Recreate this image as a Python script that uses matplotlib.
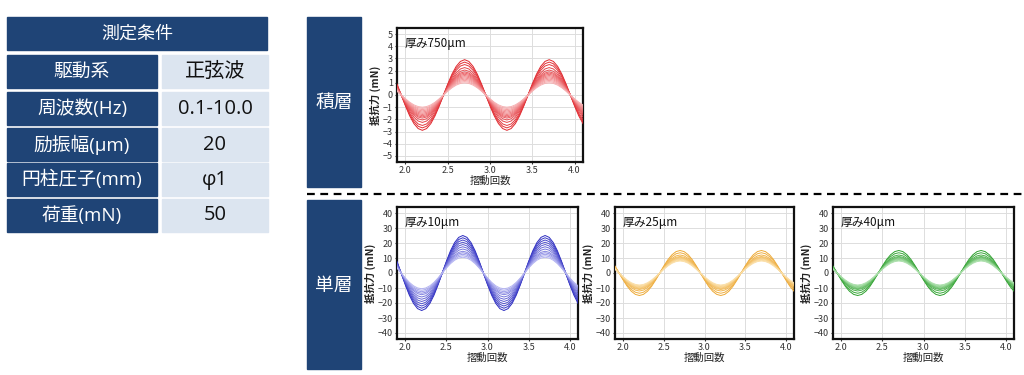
import matplotlib
matplotlib.use("Agg")
import matplotlib.pyplot as plt
from matplotlib.patches import Rectangle
from matplotlib.lines import Line2D
import numpy as np

plt.rcParams['font.family'] = ['Noto Sans CJK JP', 'DejaVu Sans']

# ---------------- data ----------------
table_title = "測定条件"
table_keys = ["駆動系", "周波数(Hz)", "励振幅(μm)", "円柱圧子(mm)", "荷重(mN)"]
table_vals = ["正弦波", "0.1-10.0", "20", "φ1", "50"]

group_labels = ["積層", "単層"]

# sliding-cycle positions (摺動回数)
cycles = [1.90, 1.95, 2.00, 2.05, 2.10, 2.15, 2.20, 2.25, 2.30, 2.35, 2.40,
          2.45, 2.50, 2.55, 2.60, 2.65, 2.70, 2.75, 2.80, 2.85, 2.90,
          2.95, 3.00, 3.05, 3.10, 3.15, 3.20, 3.25, 3.30, 3.35, 3.40,
          3.45, 3.50, 3.55, 3.60, 3.65, 3.70, 3.75, 3.80, 3.85, 3.90,
          3.95, 4.00, 4.05, 4.10]
# normalised waveform (peak = 1)
waveform = [0.31, 0.00, -0.31, -0.59, -0.81, -0.95, -1.00, -0.95, -0.81, -0.59, -0.31,
            0.00, 0.31, 0.59, 0.81, 0.95, 1.00, 0.95, 0.81, 0.59, 0.31,
            0.00, -0.31, -0.59, -0.81, -0.95, -1.00, -0.95, -0.81, -0.59, -0.31,
            0.00, 0.31, 0.59, 0.81, 0.95, 1.00, 0.95, 0.81, 0.59, 0.31,
            0.00, -0.31, -0.59, -0.81]

# peak resistance (mN) of each recorded cycle curve
amps_750 = [2.9, 2.7, 2.5, 2.25, 2.05, 1.9, 1.8, 1.7, 1.6, 1.5, 1.4, 1.3, 1.2, 1.1, 1.0]
amps_10 = [25, 23.5, 22, 20.5, 19, 17.5, 16, 14.5, 13.5, 12.5, 11.5, 10.5]
amps_25 = [15, 13.5, 12, 11, 10.5, 10, 9.5, 9, 8.5, 8]
amps_40 = [15, 13.5, 12, 11, 10.5, 10, 9.5, 9, 8.5, 8]

panel_titles = ["厚み750μm", "厚み10μm", "厚み25μm", "厚み40μm"]
xlabel = "摺動回数"
ylabel = "抵抗力 (mN)"
xticks = [2.0, 2.5, 3.0, 3.5, 4.0]
yticks_top = [-5, -4, -3, -2, -1, 0, 1, 2, 3, 4, 5]
yticks_bot = [-40, -30, -20, -10, 0, 10, 20, 30, 40]

# ---------------- figure ----------------
W, H = 1024, 375
fig = plt.figure(figsize=(W / 100, H / 100), dpi=100)
navy = "#1f4476"
light = "#dce5f0"
tfont = ['Open Sans', 'Noto Sans CJK JP', 'DejaVu Sans']

bg = fig.add_axes([0, 0, 1, 1])
bg.set_xlim(0, W)
bg.set_ylim(H, 0)
bg.axis("off")

# table
bg.add_patch(Rectangle((7, 17), 260, 33, color=navy))
bg.text(137, 34, table_title, color="white", ha="center", va="center",
        fontsize=13, family=tfont)
row_tops = [55, 92, 128, 163, 199]
for top, k, v in zip(row_tops, table_keys, table_vals):
    bg.add_patch(Rectangle((7, top), 150, 33, color=navy))
    bg.add_patch(Rectangle((162, top), 106, 33, color=light))
    bg.text(82, top + 16.5, k, color="white", ha="center", va="center",
            fontsize=13.5, family=tfont)
    bg.text(215, top + 16.5, v, color="#111111", ha="center", va="center",
            fontsize=14.5, family=tfont)

# group label boxes
bg.add_patch(Rectangle((307, 17), 54, 170, color=navy))
bg.text(334, 102, group_labels[0], color="white", ha="center", va="center", fontsize=13.5)
bg.add_patch(Rectangle((307, 200), 54, 169, color=navy))
bg.text(334, 285, group_labels[1], color="white", ha="center", va="center", fontsize=13.5)

# dashed separator
bg.add_line(Line2D([307, 1024], [194, 194], color="black", lw=1.6, ls=(0, (3.5, 2.5))))


def panel(rect_px, amps, color_dark, color_light, yticks, ylim, title):
    l, t, r, b = rect_px
    ax = fig.add_axes([l / W, (H - b) / H, (r - l) / W, (b - t) / H])
    n = len(amps)
    wave = np.array(waveform)
    cd = np.array(matplotlib.colors.to_rgb(color_dark))
    cl = np.array(matplotlib.colors.to_rgb(color_light))
    for i, a in enumerate(amps):
        f = i / max(n - 1, 1)
        c = tuple(cd * (1 - f) + cl * f)
        ax.plot(cycles, wave * a, color=c, lw=0.7, zorder=3)
    ax.set_xlim(1.9, 4.1)
    ax.set_ylim(*ylim)
    ax.set_xticks(xticks)
    ax.set_yticks(yticks)
    ax.grid(True, color="#dddddd", lw=0.7)
    ax.tick_params(labelsize=6.5, length=1.5, pad=1.5, colors="#333333")
    for s in ax.spines.values():
        s.set_linewidth(1.6)
        s.set_color("#111111")
    ax.set_xlabel(xlabel, fontsize=7.5, labelpad=0.5, color="#222222")
    ax.set_ylabel(ylabel, fontsize=7.5, labelpad=1, color="#222222", fontweight="bold")
    ax.text(0.04, 0.93, title, transform=ax.transAxes, fontsize=8.5,
            ha="left", va="top", color="#111111", zorder=5)
    return ax


panel((397, 28, 583, 162), amps_750, "#e0282e", "#f7b0b2", yticks_top, (-5.5, 5.5), panel_titles[0])
panel((397, 207, 578, 339), amps_10, "#2c2cc0", "#b4b4f2", yticks_bot, (-44, 44), panel_titles[1])
panel((615, 207, 794, 339), amps_25, "#eda935", "#fbdfa8", yticks_bot, (-44, 44), panel_titles[2])
panel((833, 207, 1014, 339), amps_40, "#2ea12e", "#ace0ac", yticks_bot, (-44, 44), panel_titles[3])

fig.savefig("out.png", dpi=100)
